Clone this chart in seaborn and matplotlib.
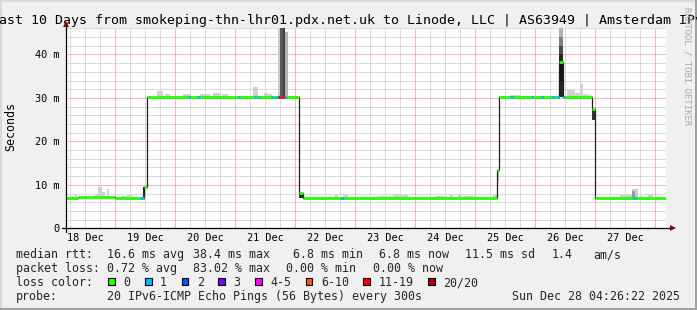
import numpy as np
import pandas as pd
import matplotlib
matplotlib.use("Agg")
import matplotlib.pyplot as plt
from matplotlib.patches import Rectangle
import seaborn as sns

# ---------------- data ----------------
# time axis in hours since 18 Dec 2025 00:00
t_start, t_end = 4.44, 244.44
day_labels = ["18 Dec", "19 Dec", "20 Dec", "21 Dec", "22 Dec",
              "23 Dec", "24 Dec", "25 Dec", "26 Dec", "27 Dec"]
y_ticks = [0, 10, 20, 30, 40]
y_tick_labels = ["0", "10 m", "20 m", "30 m", "40 m"]
y_max = 46.2

# median rtt as a step series (value holds until the next time)
med_hours = [4.44, 9.1, 24.0, 31.1, 35.4, 36.7, 97.6, 99.1, 176.8, 177.6,
             201.7, 203.1, 214.8, 215.8, 244.44]
med_ms = [6.9, 7.1, 6.9, 7.05, 9.6, 30.2, 8.1, 6.9, 13.4, 30.2,
          38.3, 30.2, 27.4, 6.9, 6.9]

loss_labels = ["0", "1", "2", "3", "4-5", "6-10", "11-19", "20/20"]
loss_colors = ["#26ff00", "#00b8ff", "#0059ff", "#7e00ff",
               "#ff00ff", "#ff5500", "#ff0000", "#a10000"]

# loss events on the median: start hour, end hour, loss bucket index
loss_start = [34.0, 53.2, 56.8, 73.0, 79.6, 81.2, 86.4, 87.8, 89.2, 90.0, 91.8,
              114.4, 182.0, 190.4, 194.4, 198.4, 200.7, 203.2, 231.2]
loss_end = [35.4, 54.0, 58.0, 74.0, 80.4, 82.0, 87.2, 88.6, 90.0, 91.8, 92.8,
            115.4, 183.2, 191.2, 195.2, 200.0, 201.7, 203.8, 232.2]
loss_bucket = [1, 1, 1, 1, 1, 1, 1, 1, 3, 6, 1,
               1, 1, 1, 1, 1, 1, 1, 1]

# smoke (spread of the 20 pings): start/end hour, low/high ms, darkness
smoke_start = [6.0, 8.0, 13.2, 16.0, 17.3, 18.7, 20.7, 26.7, 28.7,
               35.3,
               40.8, 44.0, 51.2, 58.0, 63.2, 66.8, 79.2, 83.6, 85.2,
               89.3, 90.0, 91.3, 92.0,
               97.6,
               107.2, 112.0, 115.2, 118.0, 128.8, 135.2, 138.0, 152.0, 158.0,
               161.2, 163.2, 175.2,
               176.8,
               182.0, 186.0, 194.0,
               201.7, 201.7, 201.7, 201.7, 201.7, 201.7,
               204.8, 208.0, 210.0, 211.2, 212.8,
               214.8,
               220.8, 226.0, 230.8, 230.8, 232.0, 234.0, 237.2]
smoke_end = [7.1, 8.9, 16.0, 17.3, 18.7, 20.0, 21.7, 28.7, 30.7,
             36.1,
             43.2, 46.0, 54.0, 62.0, 66.0, 69.2, 81.2, 85.2, 86.8,
             90.0, 91.3, 92.0, 93.1,
             99.1,
             110.0, 113.2, 117.2, 128.8, 135.2, 138.0, 141.2, 156.8, 159.2,
             162.8, 168.8, 176.8,
             177.6,
             186.0, 190.0, 196.0,
             203.1, 203.1, 203.1, 203.1, 203.1, 203.1,
             208.0, 210.0, 211.2, 212.8, 214.4,
             215.8,
             224.8, 230.8, 232.0, 232.0, 233.2, 235.2, 239.2]
smoke_low = [7.1, 6.9, 7.1, 7.1, 7.1, 7.1, 7.1, 6.9, 6.9,
             7.05,
             30.2, 30.2, 30.2, 30.2, 30.2, 30.2, 30.2, 30.2, 30.2,
             30.2, 30.2, 30.2, 30.2,
             6.9,
             6.9, 6.9, 6.9, 6.9, 6.9, 6.9, 6.9, 6.9, 6.9,
             6.9, 6.9, 6.9,
             10.8,
             30.2, 30.2, 30.2,
             30.2, 34.0, 38.3, 40.0, 42.0, 44.0,
             30.2, 30.2, 30.2, 30.2, 30.2,
             25.0,
             6.9, 6.9, 6.9, 6.9, 6.9, 6.9, 6.9]
smoke_high = [7.5, 7.65, 7.5, 8.0, 9.4, 8.3, 9.0, 7.5, 7.65,
              9.6,
              31.6, 30.8, 30.8, 30.9, 31.2, 30.8, 32.6, 31.2, 30.8,
              46.2, 46.2, 46.2, 45.2,
              8.1,
              7.3, 8.0, 7.8, 7.3, 7.5, 8.0, 7.65, 7.5, 8.0,
              8.0, 7.5, 7.65,
              13.4,
              30.6, 30.5, 30.5,
              34.0, 38.3, 40.0, 42.0, 44.0, 46.2,
              31.8, 31.2, 33.1, 30.8, 30.7,
              27.4,
              7.3, 7.65, 9.0, 8.6, 9.0, 7.5, 7.9]
smoke_dark = [0.18, 0.18, 0.18, 0.18, 0.18, 0.18, 0.18, 0.18, 0.18,
              0.85,
              0.18, 0.18, 0.18, 0.18, 0.18, 0.18, 0.18, 0.18, 0.18,
              0.2, 0.65, 0.75, 0.3,
              0.85,
              0.18, 0.18, 0.18, 0.18, 0.18, 0.18, 0.18, 0.18, 0.18,
              0.18, 0.18, 0.18,
              0.25,
              0.18, 0.18, 0.18,
              0.85, 0.92, 0.85, 0.7, 0.5, 0.3,
              0.18, 0.18, 0.18, 0.18, 0.18,
              0.8,
              0.18, 0.18, 0.2, 0.4, 0.2, 0.18, 0.18]

title = ("Last 10 Days from smokeping-thn-lhr01.pdx.net.uk to Linode, LLC "
         "| AS63949 | Amsterdam IPv6")
legend_rows = [
    [("median rtt:", 16.0), ("16.6 ms avg", 107.3), ("38.4 ms max", 193.3),
     ("6.8 ms min", 293.3), ("6.8 ms now", 379.3), ("11.5 ms sd", 465.0),
     ("1.4", 551.7), ("am/s", 593.3)],
    [("packet loss:", 16.0), ("0.72 % avg", 107.3), ("83.02 % max", 193.3),
     ("0.00 % min", 286.0), ("0.00 % now", 372.7)],
]
probe_text = "20 IPv6-ICMP Echo Pings (56 Bytes) every 300s"
date_text = "Sun Dec 28 04:26:22 2025"

# ---------------- style ----------------
sns.set_theme(style="white")
plt.rcParams['font.family'] = ['DejaVu Sans Mono', 'DejaVu Sans']

W, H = 697, 310
BG = "#f0f0f0"
fig = plt.figure(figsize=(W / 100, H / 100), dpi=100, facecolor=BG)

# overlay for text / frame in pixel coordinates
ov = fig.add_axes([0, 0, 1, 1], zorder=0)
ov.set_xlim(0, W)
ov.set_ylim(H, 0)
ov.axis("off")

# main plot axes
x0_px, x1_px = 66.1, 666.1
y0_px, y1_px = 228.3, 27.5
ax = fig.add_axes([x0_px / W, 1 - y0_px / H, (x1_px - x0_px) / W,
                   (y0_px - y1_px) / H], zorder=1)
ax.set_facecolor("white")
ax.set_xlim(t_start, t_end)
ax.set_ylim(0, y_max)
for s in ax.spines.values():
    s.set_visible(False)

dot = (0, (1, 1))
minor_c = "#b8b8b8"
major_c = "#e87070"
# grid
ymin_lines = [v for v in np.arange(2, y_max, 2) if v % 10 != 0]
xminor = [h for h in np.arange(6, t_end, 6) if h % 24 != 0 and h > t_start]
xmajor = [h for h in np.arange(24, t_end, 24)]
grid_sets = [
    ax.hlines(ymin_lines, t_start, t_end, colors=minor_c, linewidth=0.72,
              linestyles=dot, zorder=1),
    ax.hlines(y_ticks[1:], t_start, t_end, colors=major_c, linewidth=0.72,
              linestyles=dot, zorder=1.1),
    ax.vlines(xminor, 0, y_max, colors=minor_c, linewidth=0.72,
              linestyles=dot, zorder=1),
    ax.vlines(xmajor, 0, y_max, colors=major_c, linewidth=0.72,
              linestyles=dot, zorder=1.1),
]
for g in grid_sets:
    g.set_snap(True)

# smoke
s_start = np.array(smoke_start)
s_end = np.array(smoke_end)
s_low = np.array(smoke_low)
s_high = np.array(smoke_high)
greys = [(1 - d, 1 - d, 1 - d) for d in smoke_dark]
ax.bar(s_start, s_high - s_low, width=s_end - s_start, bottom=s_low,
       align="edge", color=greys, linewidth=0, zorder=2)

# median line (black steps)
med_df = pd.DataFrame({"hours": med_hours, "ms": med_ms})
sns.lineplot(data=med_df, x="hours", y="ms", drawstyle="steps-post",
             color="#202020", linewidth=0.9, estimator=None, ax=ax,
             zorder=3)

# loss-coloured band along the median
band_lw = 2.0
ax.hlines(med_ms[:-1], med_hours[:-1], med_hours[1:], colors=loss_colors[0],
          linewidth=band_lw, zorder=4)
mh = np.array(med_hours)
for a, b, k in zip(loss_start, loss_end, loss_bucket):
    idx = np.searchsorted(mh, a, side="right") - 1
    ax.hlines(med_ms[idx], a, b, colors=loss_colors[k], linewidth=band_lw,
              zorder=5)

# ticks
ax.set_xticks([12 + 24 * i for i in range(len(day_labels))], day_labels)
ax.set_yticks(y_ticks, y_tick_labels)
ax.tick_params(axis="both", length=0, labelsize=7.4, colors="black")
ax.tick_params(axis="x", pad=3.6)
ax.tick_params(axis="y", pad=4.4)
ax.set_xlabel("")
ax.set_ylabel("")

# axis lines with arrows
ax.plot([-4 / 600, 1 + 4 / 600], [0, 0], color="black", linewidth=0.9,
        transform=ax.transAxes, clip_on=False, zorder=6)
ax.plot([0, 0], [-4 / 200.8, 1 + 2 / 200.8], color="black", linewidth=0.9,
        transform=ax.transAxes, clip_on=False, zorder=6)
ax.plot([1 + 7 / 600], [0], marker=">", markersize=5, color="#800000",
        transform=ax.transAxes, clip_on=False, zorder=7, markeredgewidth=0)
ax.plot([0], [1 + 4 / 200.8], marker="^", markersize=5, color="#800000",
        transform=ax.transAxes, clip_on=False, zorder=7, markeredgewidth=0)

# frame
ov.add_patch(Rectangle((0, 0), W, 2, color="#d8d8d8", lw=0))
ov.add_patch(Rectangle((0, 0), 2, H, color="#d8d8d8", lw=0))
ov.add_patch(Rectangle((W - 2, 0), 2, H, color="#a0a0a0", lw=0))
ov.add_patch(Rectangle((0, H - 2), W, 2, color="#a0a0a0", lw=0))

# texts
ov.text(351, 24, title, ha="center", va="baseline", fontsize=9.5,
        color="black")
ov.text(10.5, 126.5, "Seconds", rotation=90, ha="center", va="center",
        fontsize=8.4, color="black")
ov.text(687, 66, "RRDTOOL / TOBI OETIKER", rotation=270, ha="center",
        va="center", fontsize=6.5, color="#a8a8a8")

leg_fs = 8.4
base_y = [258, 272]
for row, by in zip(legend_rows, base_y):
    for txt, x in row:
        ov.text(x, by, txt, ha="left", va="baseline", fontsize=leg_fs)

ov.text(16, 286, "loss color:", ha="left", va="baseline", fontsize=leg_fs)
bx = 108.3
for lab, col in zip(loss_labels, loss_colors):
    ov.add_patch(Rectangle((bx, 278.3), 6.7, 6.7, facecolor=col,
                           edgecolor="black", lw=0.8))
    ov.text(bx + 15, 286, lab, ha="left", va="baseline", fontsize=leg_fs)
    bx += 36.7 + 7.0 * (len(lab) - 1)

ov.text(16, 300, "probe:", ha="left", va="baseline", fontsize=leg_fs)
ov.text(107.3, 300, probe_text, ha="left", va="baseline", fontsize=leg_fs)
ov.text(680, 300, date_text, ha="right", va="baseline", fontsize=leg_fs)

fig.savefig("out.png", dpi=100, facecolor=BG)
